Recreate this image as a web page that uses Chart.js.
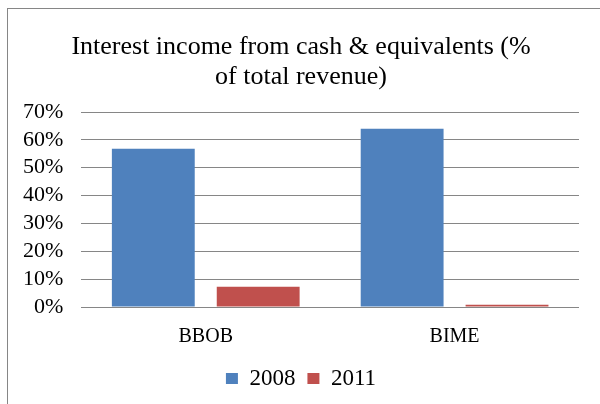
<!DOCTYPE html>
<html>
<head>
<meta charset="utf-8">
<script src="https://cdn.jsdelivr.net/npm/chart.js@4.4.1/dist/chart.umd.min.js"></script>
<style>
  html, body { margin:0; padding:0; background:#fff; }
  #wrap { position:relative; width:600px; height:404px; overflow:hidden; }
  #frame { position:absolute; left:7px; top:8px; width:700px; height:500px; border:1px solid #868686; pointer-events:none; }
  #box { position:absolute; left:0; top:0; width:600px; height:404px; }
</style>
</head>
<body>
<div id="wrap">
  <div id="frame"></div>
  <div id="box"><canvas id="chart"></canvas></div>
</div>
<script>
const categories = ['BBOB', 'BIME'];
const years = ['2008', '2011'];
const values2008 = [56.8, 64.0];
const values2011 = [7.3, 0.8];
const titleLines = ['Interest income from cash & equivalents (%', 'of total revenue)'];

const serif = "'Liberation Serif', 'Times New Roman', serif";
const gridGrey = '#868686';
const clear = 'rgba(0,0,0,0)';

new Chart(document.getElementById('chart'), {
  type: 'bar',
  data: {
    labels: categories,
    datasets: [
      { label: years[0], data: values2008, backgroundColor: '#4F81BD' },
      { label: years[1], data: values2011, backgroundColor: '#C0504D' }
    ]
  },
  options: {
    responsive: true,
    maintainAspectRatio: false,
    animation: false,
    layout: { padding: { top: 32, left: 23, right: 21, bottom: 4 } },
    datasets: { bar: { categoryPercentage: 0.843, barPercentage: 0.79 } },
    plugins: {
      title: {
        display: true,
        text: titleLines,
        color: '#000',
        font: { family: serif, size: 26, weight: 'normal', lineHeight: 30 / 26 },
        padding: { top: 0, bottom: 20 }
      },
      legend: {
        position: 'bottom',
        labels: {
          color: '#000',
          font: { family: serif, size: 23 },
          boxWidth: 12,
          boxHeight: 11,
          padding: 12
        }
      },
      tooltip: { enabled: false }
    },
    scales: {
      x: {
        // hidden tick marks push the category labels down without growing the axis much
        grid: { display: false, drawTicks: true, tickLength: 12, tickColor: clear },
        border: { display: false },
        ticks: { color: '#000', font: { family: serif, size: 20 }, padding: 6 }
      },
      y: {
        min: 0,
        max: 70,
        grid: { color: gridGrey, lineWidth: 1, drawTicks: true, tickLength: 18, tickColor: clear },
        border: { display: false },
        ticks: {
          stepSize: 10,
          autoSkip: false,
          color: '#000',
          font: { family: serif, size: 22 },
          padding: 0,
          callback: v => v + '%'
        }
      }
    }
  }
});
</script>
</body>
</html>
